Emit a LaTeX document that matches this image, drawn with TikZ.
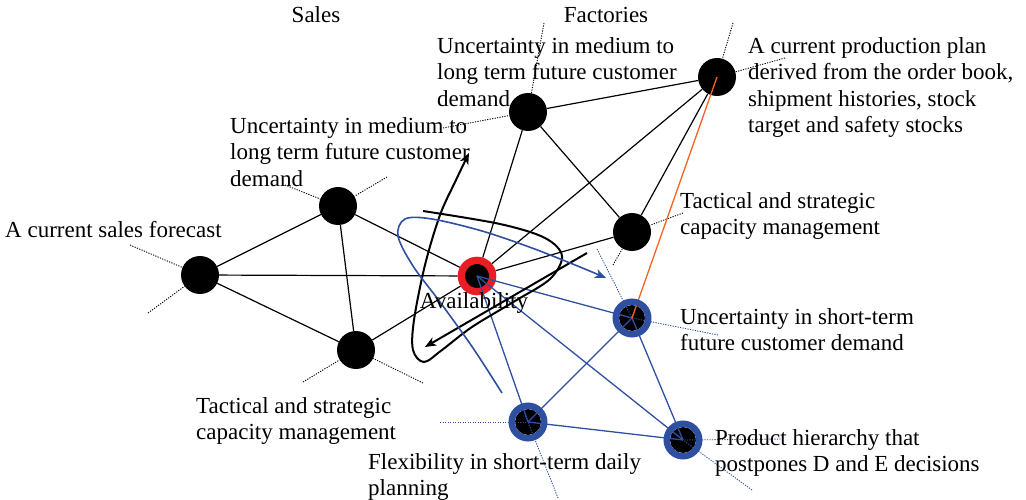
\documentclass[tikz,border=0pt]{standalone}
\usepackage{fontspec}
\setmainfont{Liberation Serif}
\usetikzlibrary{arrows.meta}
\definecolor{bl}{RGB}{47,80,160}
\definecolor{org}{RGB}{245,100,30}
\definecolor{rd}{RGB}{232,30,36}
\pgfdeclarelayer{bg}
\pgfsetlayers{bg,main}
\begin{document}
\begin{tikzpicture}[x=1pt,y=-1pt,
  kdot/.style={circle,fill=black,minimum size=38pt,inner sep=0pt},
  adot/.style={circle,fill=black,draw=rd,line width=7.3pt,minimum size=31.3pt,inner sep=0pt},
  bcore/.style={circle,fill=black,minimum size=26pt,inner sep=0pt},
  bring/.style={circle,draw=bl,line width=6.5pt,minimum size=32.5pt,inner sep=0pt},
  edge/.style={line width=1.2pt},
  bedge/.style={bl,line width=1.3pt},
  dots/.style={line width=0.9pt,dash pattern=on 1.2pt off 1.3pt},
  bdots/.style={bl,line width=0.9pt,dash pattern=on 1.2pt off 1.3pt},
  lbl/.style={font=\fontsize{23}{26.6}\selectfont,align=left,anchor=north west,inner sep=0pt},
  ttl/.style={font=\fontsize{23}{26.6}\selectfont,inner sep=0pt},
  curve/.style={line width=2pt,-{Stealth[length=11pt,width=9pt,inset=3pt]}},
  bcurve/.style={bl,line width=1.6pt,-{Stealth[length=11pt,width=9pt,inset=3pt]}}
]
\useasboundingbox (0,0) rectangle (1026,500);

% nodes
\node[kdot] (S1) at (200,275) {};
\node[kdot] (S2) at (338,206) {};
\node[kdot] (S3) at (356,350) {};
\node[kdot] (F1) at (528,112) {};
\node[kdot] (F2) at (717,77) {};
\node[kdot] (F3) at (632,232) {};
\node[adot] (A) at (477,276) {};
\node[bcore] (B1) at (632,318) {};
\node[bcore] (B2) at (528,422) {};
\node[bcore] (B3) at (683,440) {};

% dotted ends
\coordinate (dS1a) at (130,245);
\coordinate (dS1b) at (148,313);
\coordinate (dS2a) at (285,185);
\coordinate (dS2b) at (387,177);
\coordinate (dS3a) at (303,382);
\coordinate (dS3b) at (423,383);
\coordinate (dF1a) at (443,128);
\coordinate (dF1b) at (544,23);
\coordinate (dF2a) at (733,23);
\coordinate (dF2b) at (785,58);
\coordinate (dF3a) at (683,213);
\coordinate (dF3b) at (613,265);
\coordinate (dB1a) at (597,249);
\coordinate (dB1b) at (718,335);
\coordinate (dB2a) at (440,422);
\coordinate (dB2b) at (558,498);
\coordinate (dB3a) at (783,439);
\coordinate (dB3b) at (752,490);

\begin{pgfonlayer}{bg}
  \draw[edge] (S1) -- (S2);
  \draw[edge] (S1) -- (S3);
  \draw[edge] (S2) -- (S3);
  \draw[edge] (S1) -- (A);
  \draw[edge] (S2) -- (A);
  \draw[edge] (S3) -- (A);
  \draw[edge] (F1) -- (F2);
  \draw[edge] (F1) -- (F3);
  \draw[edge] (F2) -- (F3);
  \draw[edge] (F1) -- (A);
  \draw[edge] (F2) -- (A);
  \draw[edge] (F3) -- (A);
  \draw[dots] (dS1a) -- (S1);
  \draw[dots] (dS1b) -- (S1);
  \draw[dots] (dS2a) -- (S2);
  \draw[dots] (dS2b) -- (S2);
  \draw[dots] (dS3a) -- (S3);
  \draw[dots] (dS3b) -- (S3);
  \draw[dots] (dF1a) -- (F1);
  \draw[dots] (dF1b) -- (F1);
  \draw[dots] (dF2a) -- (F2);
  \draw[dots] (dF2b) -- (F2);
  \draw[dots] (dF3a) -- (F3);
  \draw[dots] (dF3b) -- (F3);
\end{pgfonlayer}

% blue network over the cores
\draw[bedge] (A.center) -- (B1.center);
\draw[bedge] (A.center) -- (B2.center);
\draw[bedge] (A.center) -- (B3.center);
\draw[bedge] (B1.center) -- (B2.center);
\draw[bedge] (B1.center) -- (B3.center);
\draw[bedge] (B2.center) -- (B3.center);
\draw[bdots] (dB1a) -- (B1.center);
\draw[bdots] (dB1b) -- (B1.center);
\draw[bdots] (dB2a) -- (B2.center);
\draw[bdots] (dB2b) -- (B2.center);
\draw[bdots] (dB3a) -- (B3.center);
\draw[bdots] (dB3b) -- (B3.center);
\draw[org,line width=1.3pt] (F2.center) -- (B1.center);

\node[bring] (B1r) at (B1) {};
\node[bring] (B2r) at (B2) {};
\node[bring] (B3r) at (B3) {};

% curves
\draw[curve] plot[smooth,tension=0.55] coordinates {(423,211) (500,224) (545,238) (562,256) (550,279) (515,301) (472,327) (442,350) (424,362) (413,350) (414,320) (425,265) (440,215) (456,180) (469,153)};
\draw[curve] (587,253) -- (425,347);
\draw[bcurve] plot[smooth,tension=0.55] coordinates {(502,393) (473,348) (440,302) (413,266) (398,236) (405,219) (432,219) (482,231) (532,248) (580,267) (606,278)};

% labels
\node[ttl] (tS) at (316,15) {Sales};
\node[ttl] (tF) at (606,15) {Factories};
\node[ttl,anchor=base] (tA) at (474,308) {Availability};
\node[lbl] (lF1) at (437,37) {Uncertainty in medium to\\long term future customer\\demand};
\node[lbl] (lS2) at (230,117) {Uncertainty in medium to\\long term future customer\\demand};
\node[lbl] (lS1) at (5,221) {A current sales forecast};
\node[lbl] (lS3) at (196,397) {Tactical and strategic\\capacity management};
\node[lbl] (lF2) at (748,37) {A current production plan\\derived from the order book,\\shipment histories, stock\\target and safety stocks};
\node[lbl] (lF3) at (680,192) {Tactical and strategic\\capacity management};
\node[lbl] (lB1) at (680,308) {Uncertainty in short-term\\future customer demand};
\node[lbl] (lB2) at (368,453) {Flexibility in short-term daily\\planning};
\node[lbl] (lB3) at (715,429) {Product hierarchy that\\postpones D and E decisions};
\end{tikzpicture}
\end{document}
